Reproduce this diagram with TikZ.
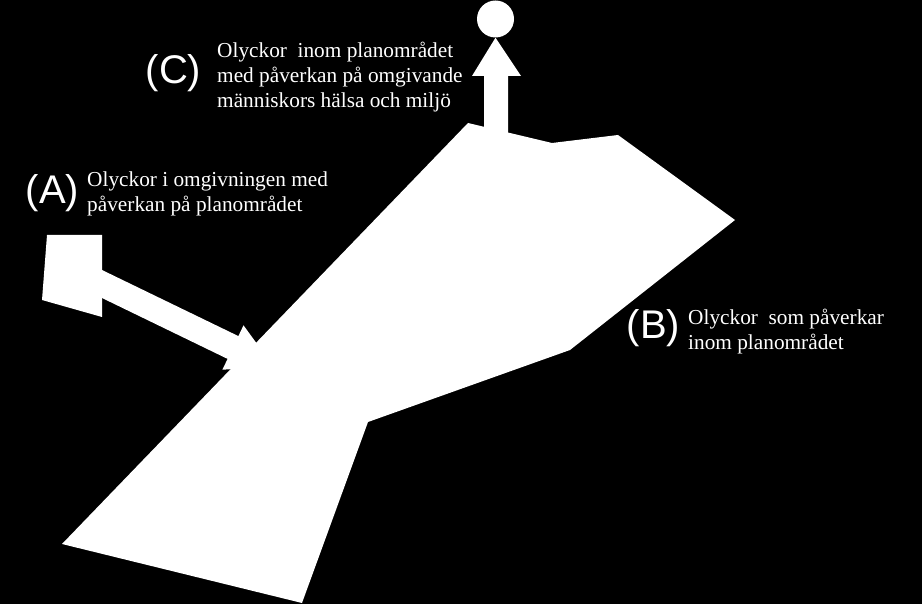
\documentclass[tikz,border=0pt]{standalone}
\usepackage{fontspec}
\setmainfont{Liberation Serif}
\newfontfamily\tagfont{Liberation Sans}
\usetikzlibrary{calc,positioning}

\begin{document}
\begin{tikzpicture}[x=1pt,y=-1pt]

  % Styles
  \tikzstyle{every node}=[text=white,inner sep=0pt]
  \tikzstyle{area}=[fill=white,draw=none]
  \tikzstyle{tag}=[font=\tagfont\fontsize{40}{44}\selectfont]
  \tikzstyle{note}=[font=\fontsize{21.3}{25}\selectfont,align=left,anchor=north west]

  % Background
  \fill[black] (0,0) rectangle (922,604);
  \useasboundingbox (0,0) rectangle (922,604);

  % ===========================================================================

  % Draw plan area
  \fill[area] (468,123) -- (552,143) -- (618,135) -- (735,220) -- (570,350)
    -- (368,422) -- (302,603) -- (62,544) -- cycle;

  % Draw source outside the plan area and its arrow
  \fill[area] (47,235) -- (102,235) -- (102,317) -- (42,300) -- cycle;
  \coordinate (shaft-a-0) at (102,270);
  \coordinate (shaft-a-1) at (102,298);
  \fill[area] (shaft-a-0) -- (238.4,336.1) -- (243.5,325.3) -- (273.6,366.8)
    -- (222.4,369.7) -- (227.6,358.9) -- (shaft-a-1) -- cycle;

  % Draw target outside the plan area and its arrow
  \node[area,circle,minimum size=37pt] (target) at (495.5,19) {};
  \fill[area] (484,135) -- (484,76) -- (472,76) -- (target.south)
    -- (521,76) -- (508,76) -- (508,135) -- cycle;

  % Draw labels
  \node[tag] (tag-a) at (52.5,193) {(A)};
  \node[note] (note-a) at (87,172) {Olyckor i omgivningen med\\påverkan på planområdet};

  \node[tag] (tag-b) at (653.5,328) {(B)};
  \node[note] (note-b) at (688,309) {Olyckor~ som påverkar\\inom planområdet};

  \node[tag] (tag-c) at (173.5,73) {(C)};
  \node[note] (note-c) at (217,42) {Olyckor~ inom planområdet\\med påverkan på omgivande\\människors hälsa och miljö};

\end{tikzpicture}
\end{document}
